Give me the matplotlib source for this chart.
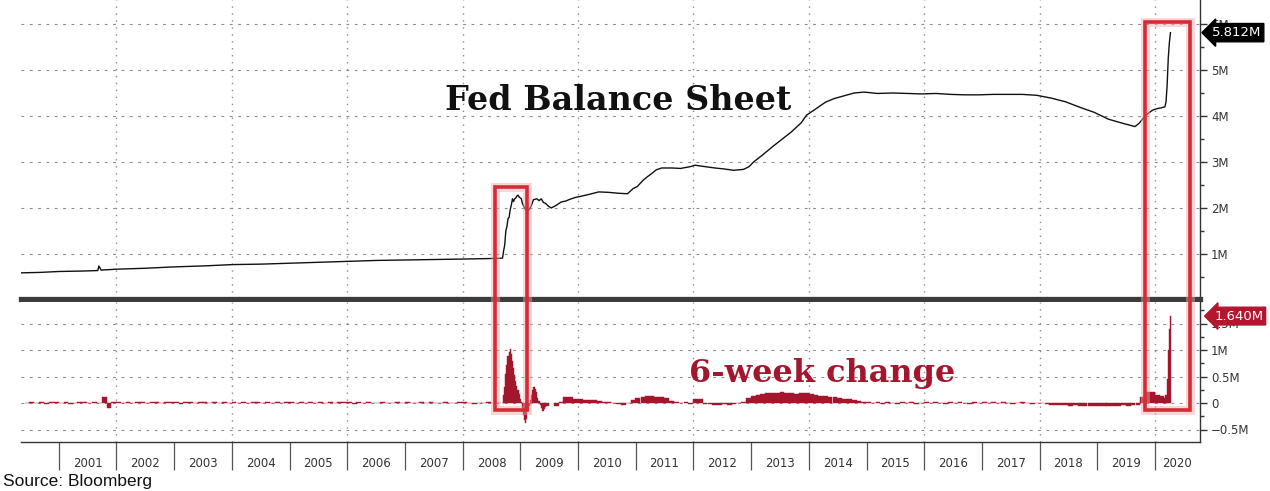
import pandas as pd
import matplotlib
matplotlib.use('Agg')
import matplotlib.pyplot as plt
import matplotlib.dates as mdates
import matplotlib.transforms as mtransforms
from matplotlib.patches import Rectangle

# Fed balance sheet, total assets (Bloomberg "M" = million millions)
bs_dates = [
    '2000-05-07', '2000-09-06', '2001-01-03', '2001-06-06', '2001-09-05', '2001-09-12',
    '2001-09-26', '2002-01-02', '2002-07-03', '2003-01-01', '2003-07-02', '2004-01-07',
    '2004-07-07', '2005-01-05', '2005-07-06', '2006-01-04', '2006-07-05', '2007-01-03',
    '2007-07-04', '2008-01-02', '2008-06-04', '2008-09-10', '2008-09-17', '2008-09-24',
    '2008-10-01', '2008-10-08', '2008-10-15', '2008-10-22', '2008-10-29', '2008-11-05',
    '2008-11-12', '2008-11-19', '2008-11-26', '2008-12-03', '2008-12-10', '2008-12-17',
    '2008-12-24', '2009-01-07', '2009-01-14', '2009-01-28', '2009-02-11', '2009-02-25',
    '2009-03-11', '2009-03-25', '2009-04-15', '2009-04-29', '2009-05-13', '2009-05-27',
    '2009-06-10', '2009-06-24', '2009-07-15', '2009-08-12', '2009-09-16', '2009-10-14',
    '2009-11-11', '2009-12-16', '2010-01-13', '2010-03-17', '2010-05-12', '2010-07-14',
    '2010-09-15', '2010-11-10', '2010-12-15', '2011-01-12', '2011-02-16', '2011-03-16',
    '2011-04-13', '2011-05-11', '2011-06-15', '2011-08-17', '2011-10-12', '2011-12-14',
    '2012-01-11', '2012-03-14', '2012-05-16', '2012-07-11', '2012-09-12', '2012-11-14',
    '2012-12-19', '2013-01-16', '2013-03-13', '2013-05-15', '2013-07-17', '2013-09-11',
    '2013-11-13', '2013-12-18', '2014-02-12', '2014-04-16', '2014-06-11', '2014-08-13',
    '2014-10-15', '2014-12-17', '2015-03-11', '2015-06-17', '2015-09-16', '2015-12-16',
    '2016-03-16', '2016-06-15', '2016-09-14', '2016-12-14', '2017-03-15', '2017-06-14',
    '2017-09-13', '2017-12-13', '2018-03-14', '2018-06-13', '2018-09-12', '2018-12-12',
    '2019-03-13', '2019-06-12', '2019-08-28', '2019-09-25', '2019-10-23', '2019-11-20',
    '2019-12-18', '2020-01-15', '2020-02-12', '2020-03-04', '2020-03-11', '2020-03-18',
    '2020-03-25', '2020-04-01', '2020-04-08',
]
bs_values = [
    0.59, 0.60, 0.62, 0.63, 0.64, 0.74,
    0.65, 0.67, 0.69, 0.72, 0.74, 0.77,
    0.78, 0.80, 0.82, 0.84, 0.86, 0.87,
    0.88, 0.89, 0.90, 0.91, 1.07, 1.20,
    1.50, 1.60, 1.77, 1.80, 1.97, 2.07,
    2.20, 2.14, 2.20, 2.22, 2.26, 2.28,
    2.24, 2.20, 2.10, 2.00, 1.93, 1.96,
    2.05, 2.18, 2.20, 2.16, 2.20, 2.12,
    2.10, 2.05, 2.00, 2.05, 2.13, 2.15,
    2.19, 2.23, 2.25, 2.30, 2.35, 2.34,
    2.32, 2.31, 2.42, 2.47, 2.60, 2.68,
    2.75, 2.83, 2.87, 2.87, 2.86, 2.90,
    2.93, 2.90, 2.87, 2.85, 2.82, 2.84,
    2.90, 3.00, 3.15, 3.33, 3.50, 3.65,
    3.85, 4.02, 4.15, 4.30, 4.38, 4.44,
    4.50, 4.52, 4.49, 4.50, 4.49, 4.48,
    4.49, 4.47, 4.46, 4.46, 4.47, 4.47,
    4.47, 4.45, 4.39, 4.31, 4.19, 4.08,
    3.93, 3.84, 3.77, 3.85, 3.97, 4.06,
    4.13, 4.16, 4.18, 4.20, 4.31, 4.67,
    5.25, 5.59, 5.812,
]

# 6-week change, monthly May 2000 - Aug 2008
chg_start_a = '2000-05-15'
chg_values_a = [
    0.00, 0.01, 0.00, 0.01, -0.01, 0.01, 0.02, 0.00,
    0.01, -0.01, 0.00, 0.01, 0.01, 0.00, 0.01, 0.00, 0.12, -0.09, 0.01, 0.02,
    0.00, 0.01, 0.00, 0.01, 0.01, 0.00, 0.02, 0.01, 0.00, 0.01, 0.01, 0.02,
    -0.01, 0.01, 0.01, 0.00, 0.02, 0.01, 0.00, 0.01, 0.00, 0.01, 0.00, 0.02,
    0.00, 0.01, 0.00, 0.01, 0.01, 0.00, 0.01, 0.00, 0.01, 0.00, 0.01, 0.01,
    0.00, 0.01, 0.00, 0.01, 0.00, 0.01, 0.00, 0.01, 0.00, 0.01, 0.01, 0.02,
    -0.01, 0.01, 0.00, 0.01, 0.00, 0.00, 0.01, 0.00, 0.00, 0.01, 0.00, 0.01,
    0.00, 0.00, 0.01, 0.00, 0.01, 0.00, 0.00, 0.01, 0.00, 0.00, 0.01, 0.01,
    0.00, -0.01, 0.00, 0.00, 0.01, 0.00, 0.00, 0.00,
]
# weekly, Sep 2008 - Jun 2009
chg_start_b = '2008-09-10'
chg_values_b = [
    0.00, 0.15, 0.30, 0.55, 0.72, 0.88, 0.97, 1.01, 0.93, 0.80,
    0.66, 0.52, 0.42, 0.33, 0.25, 0.17, 0.08, 0.02, -0.10, -0.22,
    -0.32, -0.38, -0.30, -0.15, -0.05, 0.05, 0.15, 0.25, 0.30, 0.31,
    0.27, 0.20, 0.10, 0.04, -0.04, -0.10, -0.15, -0.16, -0.12, -0.08,
    -0.05,
]
# monthly, Jul 2009 - Feb 2020
chg_start_c = '2009-07-15'
chg_values_c = [
    -0.05, 0.02, 0.12, 0.11, 0.07, 0.08,
    0.06, 0.06, 0.05, 0.03, 0.02, 0.02, 0.00, -0.01, -0.03, 0.00, 0.05, 0.10,
    0.12, 0.13, 0.13, 0.12, 0.12, 0.10, 0.04, 0.01, 0.00, 0.01, -0.01, 0.07,
    0.08, -0.02, -0.01, -0.03, -0.03, -0.02, -0.04, -0.02, 0.00, 0.02, 0.10, 0.13,
    0.16, 0.17, 0.18, 0.19, 0.18, 0.20, 0.18, 0.19, 0.17, 0.18, 0.19, 0.17,
    0.16, 0.14, 0.13, 0.12, 0.11, 0.10, 0.08, 0.07, 0.06, 0.04, 0.02, 0.01,
    0.00, 0.01, -0.01, 0.01, 0.00, -0.01, 0.01, 0.00, 0.02, -0.01, 0.00, 0.01,
    0.00, 0.01, 0.00, -0.01, 0.01, 0.00, 0.01, 0.00, -0.01, 0.01, 0.00, 0.01,
    0.00, 0.01, 0.00, 0.01, 0.00, -0.01, 0.00, 0.01, 0.00, -0.01, 0.00, 0.00,
    -0.02, -0.03, -0.03, -0.04, -0.04, -0.05, -0.04, -0.05, -0.05, -0.06, -0.05, -0.06,
    -0.05, -0.06, -0.05, -0.05, -0.04, -0.05, -0.04, -0.03, 0.12, 0.21, 0.20, 0.15,
    0.14, 0.05,
]
# weekly, Mar - Apr 2020
chg_start_d = '2020-03-04'
chg_values_d = [0.10, 0.15, 0.45, 1.00, 1.40, 1.64]

years = list(range(2001, 2021))
year_labels = [str(y) for y in years]
top_ticks = [1, 2, 3, 4, 5, 6]
top_labels = ['1M', '2M', '3M', '4M', '5M', '6M']
bot_ticks = [-0.5, 0, 0.5, 1, 1.5]
bot_labels = ['\u22120.5M', '0', '0.5M', '1M', '1.5M']
last_bs = '5.812M'
last_chg = '1.640M'

LINE = '#111111'
BAR = '#a3172d'
RED = '#d62b35'
GRID = '#8c8c8c'
SERIF = ['DejaVu Serif', 'Liberation Serif']


def month_dates(start, n):
    return pd.date_range(start, periods=n, freq='MS') + pd.Timedelta(days=14)


def week_dates(start, n):
    return pd.date_range(start, periods=n, freq='7D')


# assemble bar positions
chg_dates = (list(month_dates(chg_start_a, len(chg_values_a)))
             + list(week_dates(chg_start_b, len(chg_values_b)))
             + list(month_dates(chg_start_c, len(chg_values_c)))
             + list(week_dates(chg_start_d, len(chg_values_d))))
chg_values = chg_values_a + chg_values_b + chg_values_c + chg_values_d
chg_x = mdates.date2num(chg_dates)
chg_w = [chg_x[i + 1] - chg_x[i] if i + 1 < len(chg_x) else 7 for i in range(len(chg_x))]
chg_w = [min(w, 31) for w in chg_w]

bs_x = mdates.date2num(pd.to_datetime(bs_dates))

W, H = 1270, 491
fig = plt.figure(figsize=(W / 100, H / 100), dpi=100)
fig.patch.set_facecolor('white')

x_left = mdates.date2num(pd.Timestamp('2000-05-07'))
x_right = mdates.date2num(pd.Timestamp('2020-10-12'))

ax_top = fig.add_axes([21 / W, 1 - 299 / H, 1179 / W, 299 / H])
ax_bot = fig.add_axes([21 / W, 1 - 442 / H, 1179 / W, 140 / H])

ax_top.set_ylim(1 / 46, 300 / 46)
ax_bot.set_ylim(-39 / 53, 101 / 53)

for ax in (ax_top, ax_bot):
    ax.set_xlim(x_left, x_right)
    ax.set_facecolor('white')
    ax.yaxis.tick_right()
    ax.tick_params(axis='y', which='major', length=5, width=1, pad=3,
                   labelsize=8.5, colors='#333333')
    ax.tick_params(axis='y', which='minor', length=3, width=1, colors='#333333')
    ax.spines['left'].set_visible(False)
    ax.spines['top'].set_visible(False)
    ax.spines['right'].set_color('#333333')
    ax.spines['right'].set_linewidth(1)
    ax.grid(axis='y', linestyle=(0, (2.5, 5)), color=GRID, linewidth=0.8)
    for y in range(2002, 2021, 2):
        ax.axvline(mdates.date2num(pd.Timestamp(f'{y}-01-01')), color=GRID,
                   linestyle=(0, (1, 4)), linewidth=1, zorder=0.5)

# top panel
ax_top.set_yticks(top_ticks)
ax_top.set_yticklabels(top_labels)
ax_top.set_yticks([v + 0.5 for v in range(0, 6)], minor=True)
ax_top.set_xticks([])
ax_top.spines['bottom'].set_color('#3c3c3c')
ax_top.spines['bottom'].set_linewidth(3.8)
ax_top.plot(bs_x, bs_values, color=LINE, linewidth=1.0, zorder=3)

# bottom panel
ax_bot.set_yticks(bot_ticks)
ax_bot.set_yticklabels(bot_labels)
ax_bot.set_yticks([-0.25, 0.25, 0.75, 1.25, 1.75], minor=True)
ax_bot.bar(chg_x, chg_values, width=chg_w, color=BAR, edgecolor=BAR,
           linewidth=0.3, align='center', zorder=3)
ax_bot.spines['bottom'].set_color('#333333')
ax_bot.spines['bottom'].set_linewidth(1)

# year band below the chart
year_starts = [mdates.date2num(pd.Timestamp(f'{y}-01-01')) for y in years]
year_mids = [mdates.date2num(pd.Timestamp(f'{y}-07-02')) for y in years[:-1]]
year_mids.append((year_starts[-1] + x_right) / 2)
ax_bot.set_xticks(year_starts)
ax_bot.set_xticklabels([])
ax_bot.set_xticks(year_mids, minor=True)
ax_bot.set_xticklabels(year_labels, minor=True)
ax_bot.tick_params(axis='x', which='major', length=20, width=0.9,
                   color='#555555', direction='out')
ax_bot.tick_params(axis='x', which='minor', length=0, pad=10.5,
                   labelsize=8.5, labelcolor='#333333')

# last value boxes
tr_top = mtransforms.blended_transform_factory(ax_top.transAxes, ax_top.transData)
ax_top.text(1.010, 5.812, last_bs, transform=tr_top, color='white', fontsize=9.5,
            ha='left', va='center', clip_on=False, zorder=10,
            bbox=dict(boxstyle='larrow,pad=0.2', fc='black', ec='black'))
tr_bot = mtransforms.blended_transform_factory(ax_bot.transAxes, ax_bot.transData)
ax_bot.text(1.012, 1.64, last_chg, transform=tr_bot, color='white', fontsize=9.5,
            ha='left', va='center', clip_on=False, zorder=10,
            bbox=dict(boxstyle='larrow,pad=0.18', fc='#b3162f', ec='#b3162f'))

# titles written on the chart
ax_top.text(0.360, 4.33, 'Fed Balance Sheet', transform=tr_top, fontsize=24,
            fontweight='bold', family=SERIF, color='#111111',
            ha='left', va='center', zorder=6)
ax_bot.text(0.567, 0.55, '6-week change', transform=tr_bot, fontsize=23,
            fontweight='bold', family=SERIF, color='#a3172d',
            ha='left', va='center', zorder=6)


# red highlight boxes spanning both panels
def add_box(d0, d1, top_val, bot_val):
    x0 = mdates.date2num(pd.Timestamp(d0))
    x1 = mdates.date2num(pd.Timestamp(d1))
    p0 = ax_bot.transData.transform((x0, bot_val))
    p1 = ax_top.transData.transform((x1, top_val))
    f0 = fig.transFigure.inverted().transform(p0)
    f1 = fig.transFigure.inverted().transform(p1)
    for lw, col, a in [(6.5, '#f2a7aa', 0.45), (2.6, RED, 1.0)]:
        fig.patches.append(Rectangle(f0, f1[0] - f0[0], f1[1] - f0[1],
                                     transform=fig.transFigure, fill=False,
                                     linewidth=lw, edgecolor=col, alpha=a,
                                     zorder=20))


add_box('2008-07-24', '2009-02-14', 2.46, -0.13)
add_box('2019-11-02', '2020-08-08', 6.04, -0.13)

fig.text(0.002, 0.004, 'Source: Bloomberg', fontsize=12.5,
         family=['Liberation Sans Narrow', 'Liberation Sans'],
         color='#111111', ha='left', va='bottom')

fig.savefig('out.png', dpi=100, facecolor='white')
